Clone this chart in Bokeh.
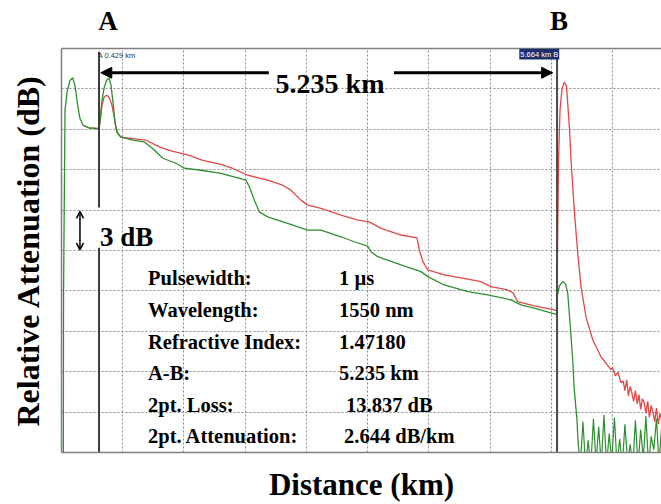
from bokeh.plotting import figure
from bokeh.models import Range1d, LinearAxis, Label, Arrow, NormalHead, OpenHead, FixedTicker
from bokeh.embed import file_html
from bokeh.resources import INLINE

# ---------------- data (km, dB) ----------------
green_km = [0.021, 0.023, 0.040, 0.063, 0.097, 0.128, 0.154, 0.185, 0.211, 0.246, 0.314, 0.429,
            0.446, 0.463, 0.486, 0.514, 0.543, 0.566, 0.589, 0.611, 0.634, 0.680, 0.814, 0.946,
            1.042, 1.157, 1.309, 1.404, 1.594, 1.823, 2.109, 2.147, 2.204, 2.261, 2.357, 2.585,
            2.814, 2.966, 3.194, 3.347, 3.500, 3.538, 3.614, 3.880, 4.109, 4.186, 4.375, 4.643,
            4.871, 5.138, 5.252, 5.404, 5.633, 5.658, 5.669, 5.692, 5.729, 5.761, 5.786, 5.801,
            5.816, 5.843, 5.861, 5.892, 5.903, 5.915]
green_db = [0.0, 11.33, 25.41, 26.74, 27.63, 27.83, 27.26, 25.78, 24.81, 24.30, 24.11, 24.04,
            25.04, 26.15, 27.04, 27.63, 27.81, 27.26, 26.00, 24.52, 23.78, 23.43, 23.19, 23.06,
            22.57, 21.85, 21.48, 21.11, 20.96, 20.72, 20.22, 19.73, 18.74, 17.87, 17.50, 17.01,
            16.52, 16.52, 16.02, 15.65, 15.33, 14.91, 14.54, 13.93, 13.43, 13.06, 12.44, 11.95,
            11.70, 11.33, 10.96, 10.72, 10.30, 10.26, 11.70, 12.37, 12.69, 12.52, 11.83, 10.59,
            9.36, 6.89, 4.67, 2.44, 0.96, 0.0]
green_noise_km = [5.93, 5.96, 5.99, 6.02, 6.05, 6.08, 6.11, 6.14, 6.17, 6.20, 6.23, 6.26, 6.29,
                  6.32, 6.35, 6.38, 6.41, 6.44, 6.47, 6.50, 6.53, 6.56, 6.59, 6.62, 6.65, 6.68,
                  6.71, 6.74, 6.77, 6.80, 6.83, 6.86]
green_noise_db = [-1.0, 2.3, -1.0, 0.9, -1.0, 2.5, -0.8, 1.9, -1.0, 2.8, -1.0, 1.4, -0.6, 2.6,
                  -1.0, 1.0, -1.0, 2.1, -0.7, 0.6, -1.0, 2.4, -1.0, 1.7, -0.5, 2.7, -1.0, 1.2,
                  0.2, 2.5, -0.8, 1.9]

red_km = [0.246, 0.314, 0.429, 0.446, 0.463, 0.486, 0.509, 0.531, 0.554, 0.577, 0.603, 0.623,
          0.642, 0.680, 0.814, 0.966, 1.118, 1.232, 1.461, 1.614, 1.823, 1.957, 2.128, 2.357,
          2.528, 2.623, 2.737, 2.814, 2.966, 3.194, 3.386, 3.518, 3.652, 3.880, 4.032, 4.063,
          4.090, 4.132, 4.186, 4.375, 4.643, 4.795, 4.909, 5.100, 5.161, 5.214, 5.404, 5.633,
          5.658, 5.669, 5.681, 5.698, 5.721, 5.747, 5.772, 5.786, 5.807, 5.824, 5.861, 5.900,
          5.938, 5.995, 6.072, 6.166, 6.281, 6.30, 6.33, 6.36, 6.395,
          6.42, 6.44, 6.46, 6.48, 6.50, 6.52, 6.54, 6.56, 6.58, 6.60, 6.62, 6.64, 6.66, 6.68,
          6.70, 6.72, 6.74, 6.76, 6.78, 6.80, 6.82, 6.84, 6.86]
red_db = [24.30, 24.11, 24.04, 24.81, 25.78, 26.37, 26.52, 26.48, 26.22, 25.78, 24.91, 24.15,
          23.70, 23.41, 23.31, 23.19, 22.69, 22.44, 22.07, 21.70, 21.39, 21.09, 20.59, 20.22,
          19.85, 19.48, 18.74, 18.37, 18.13, 17.63, 17.26, 17.13, 16.64, 16.15, 15.98, 15.93,
          15.04, 14.15, 13.56, 13.19, 12.87, 12.69, 12.32, 12.07, 11.85, 11.21, 10.89, 10.59,
          10.52, 15.04, 21.70, 25.41, 27.04, 27.50, 27.19, 25.93, 23.93, 21.70, 18.00, 14.81,
          12.30, 10.07, 8.37, 7.11, 6.15, 6.30, 5.70, 5.95, 5.19,
          5.30, 4.60, 5.40, 4.20, 4.90, 4.40, 3.80, 4.60, 3.60, 4.30, 3.20, 4.00, 3.70, 2.90,
          3.80, 2.60, 3.50, 3.00, 2.30, 3.30, 2.10, 2.90, 2.40]

A_km = 0.429
B_km = 5.664
AB_text = "5.235 km"
div_km = 0.7
div_db = 3.0
marker_letters = {0.531: "A", 5.686: "B"}

info_labels = ["Pulsewidth:", "Wavelength:", "Refractive Index:", "A-B:", "2pt. Loss:", "2pt. Attenuation:"]
info_values = ["1 \u00b5s", "1550 nm", "1.47180", "5.235 km", "13.837 dB", "2.644 dB/km"]

SERIF = "Liberation Serif"
SANS = "Liberation Sans"

p = figure(width=661, height=504, output_backend="svg", toolbar_location=None,
           x_range=Range1d(0, 6.858), y_range=Range1d(0, 30),
           min_border_left=61, min_border_right=0, min_border_top=48, min_border_bottom=51)
p.outline_line_color = None
p.background_fill_color = "white"
p.border_fill_color = "white"

grid_x = [div_km * i for i in range(0, 10)]
grid_y = [div_db * i for i in range(0, 11)]

for ax in (p.xaxis[0], p.yaxis[0]):
    ax.ticker = FixedTicker(ticks=[])
    ax.major_tick_line_color = None
    ax.minor_tick_line_color = None
    ax.major_tick_out = 0
    ax.axis_line_color = "#808080"
    ax.axis_line_width = 1.5
    ax.axis_label_text_font = SERIF
    ax.axis_label_text_font_style = "bold"
    ax.axis_label_text_color = "black"

p.xaxis.axis_label = "Distance (km)"
p.xaxis.axis_label_text_font_size = "31px"
p.xaxis.axis_label_standoff = 14
p.yaxis.axis_label = "Relative Attenuation (dB)"
p.yaxis.axis_label_text_font_size = "32px"
p.yaxis.axis_label_standoff = 16

# top border carrying the A / B marker letters
top_ax = LinearAxis(ticker=FixedTicker(ticks=list(marker_letters.keys())),
                    major_label_overrides=marker_letters,
                    major_label_text_font=SERIF, major_label_text_font_style="bold",
                    major_label_text_font_size="27px", major_label_text_color="black",
                    major_label_standoff=13,
                    major_tick_line_color=None, minor_tick_line_color=None, major_tick_out=0,
                    axis_line_color="#808080", axis_line_width=1.5)
p.add_layout(top_ax, "above")

p.xgrid[0].ticker = FixedTicker(ticks=grid_x)
p.ygrid[0].ticker = FixedTicker(ticks=grid_y)
for g in (p.xgrid[0], p.ygrid[0]):
    g.grid_line_color = "#8c8c8c"
    g.grid_line_dash = "2 2"
    g.grid_line_width = 1

# traces
p.line(green_noise_km, green_noise_db, line_color="#2f8f2f", line_width=1.2)
p.line(red_km, red_db, line_color="#e04848", line_width=1.3)
p.line(green_km, green_db, line_color="#2f8f2f", line_width=1.3)

# markers A and B
p.segment(x0=[A_km, A_km], y0=[0, 18.2], x1=[A_km, A_km], y1=[15.2, 29.75],
          line_color="#3a3a3a", line_width=2)
p.segment(x0=[B_km], y0=[0], x1=[B_km], y1=[30], line_color="#4a4a4a", line_width=2)

p.add_layout(Label(x=A_km - 0.015, y=29.8, text="A 0.429 km", text_font=SANS,
                   text_font_size="7.5px", text_color="#333333", text_baseline="top"))
p.add_layout(Label(x=B_km + 0.025, y=30, text="5.664 km B", text_font=SANS,
                   text_font_size="7.5px", text_color="white", text_baseline="top",
                   text_align="right", background_fill_color="#1e2f6e", padding=1))

# A-B distance arrows
arrow_y = 28.2
p.add_layout(Arrow(end=NormalHead(size=11, fill_color="black", line_color="black"),
                   x_start=2.37, y_start=arrow_y, x_end=A_km + 0.02, y_end=arrow_y,
                   line_width=3, line_color="black"))
p.add_layout(Arrow(end=NormalHead(size=11, fill_color="black", line_color="black"),
                   x_start=3.80, y_start=arrow_y, x_end=B_km - 0.05, y_end=arrow_y,
                   line_width=3, line_color="black"))
p.add_layout(Label(x=3.069, y=27.41, text=AB_text, text_font=SERIF, text_font_style="bold",
                   text_font_size="28px", text_align="center", text_baseline="alphabetic",
                   text_color="black"))

# 3 dB scale marker
p.add_layout(Arrow(start=OpenHead(size=7, line_width=1.5), end=OpenHead(size=7, line_width=1.5),
                   x_start=0.211, y_start=15.05, x_end=0.211, y_end=17.9,
                   line_width=1.5, line_color="black"))
p.add_layout(Label(x=0.44, y=16.0, text="3 dB", text_font=SERIF, text_font_style="bold",
                   text_font_size="27px", text_baseline="alphabetic", text_color="black"))

# info table
row0 = 12.94
row_step = 2.35
label_x = 0.989
value_x = [3.172, 3.172, 3.172, 3.172, 3.252, 3.229]
for i, (lab, val) in enumerate(zip(info_labels, info_values)):
    yb = row0 - i * row_step
    p.add_layout(Label(x=label_x, y=yb, text=lab, text_font=SERIF, text_font_style="bold",
                       text_font_size="20.5px", text_baseline="alphabetic", text_color="black"))
    p.add_layout(Label(x=value_x[i], y=yb, text=val, text_font=SERIF, text_font_style="bold",
                       text_font_size="20.5px", text_baseline="alphabetic", text_color="black"))

open("out.html", "w").write(file_html(p, INLINE))
